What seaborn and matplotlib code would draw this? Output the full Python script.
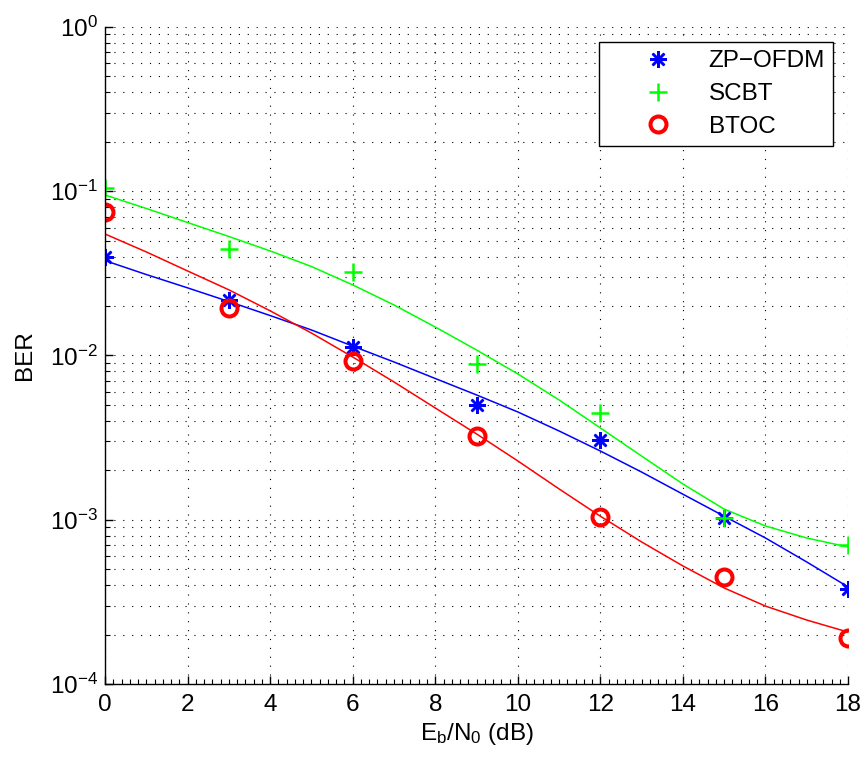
import numpy as np
import matplotlib
matplotlib.use("Agg")
import matplotlib.pyplot as plt
import seaborn as sns
from matplotlib.ticker import MultipleLocator, LogLocator, NullFormatter

# === 資料 ===
snr_pts = [0, 3, 6, 9, 12, 15, 18]
zp_ofdm_pts = [0.0397, 0.0218, 0.0112, 0.0050, 0.00306, 0.00103, 0.000377]
scbt_pts = [0.104, 0.0445, 0.0321, 0.00888, 0.00445, 0.00103, 0.000702]
btoc_pts = [0.0744, 0.0194, 0.00926, 0.00324, 0.00104, 0.000446, 0.000190]

# 擬合曲線
snr_fit = list(range(19))
zp_ofdm_fit = [0.0378, 0.0311, 0.0258, 0.0213, 0.0175, 0.0143, 0.0114, 0.00913,
               0.00724, 0.00575, 0.00453, 0.00347, 0.00262, 0.00195, 0.00143,
               0.00105, 0.000774, 0.000553, 0.000390]
scbt_fit = [0.0949, 0.0785, 0.0645, 0.0530, 0.0433, 0.0348, 0.0269, 0.0203,
            0.0149, 0.0108, 0.00772, 0.00536, 0.00362, 0.00244, 0.00165,
            0.00116, 0.000916, 0.000774, 0.000682]
btoc_fit = [0.0549, 0.0427, 0.0327, 0.0251, 0.0187, 0.0137, 0.00979, 0.00690,
            0.00479, 0.00333, 0.00228, 0.00154, 0.00105, 0.000732, 0.000523,
            0.000384, 0.000298, 0.000245, 0.000207]

# === 樣式 ===
sns.set_style('ticks')
plt.rcParams['font.family'] = ['Liberation Sans', 'DejaVu Sans']
plt.rcParams['mathtext.fontset'] = 'custom'
plt.rcParams['mathtext.rm'] = 'Liberation Sans'
plt.rcParams['mathtext.it'] = 'Liberation Sans'
for key in ['text.color', 'axes.labelcolor', 'xtick.color', 'ytick.color',
            'axes.edgecolor']:
    plt.rcParams[key] = 'black'
fs = 17.5

fig = plt.figure(figsize=(8.68, 7.62), dpi=100)
ax = fig.add_axes([0.121, 0.1024, 0.856, 0.8622])

# 曲線
sns.lineplot(x=snr_fit, y=zp_ofdm_fit, color='#0000ff', lw=1.1, ax=ax)
sns.lineplot(x=snr_fit, y=scbt_fit, color='#00ff00', lw=1.1, ax=ax)
sns.lineplot(x=snr_fit, y=btoc_fit, color='#ff0000', lw=1.1, ax=ax)

# 標記點
sns.lineplot(x=snr_pts, y=zp_ofdm_pts, marker=(8, 2, 0), linestyle='',
             markersize=12, mew=1.8, mec='#0000ff', color='#0000ff',
             label='ZP\u2212OFDM', ax=ax)
sns.lineplot(x=snr_pts, y=scbt_pts, marker='+', linestyle='',
             markersize=12.5, mew=1.8, mec='#00ff00', color='#00ff00',
             label='SCBT', ax=ax)
sns.lineplot(x=snr_pts, y=btoc_pts, marker='o', linestyle='',
             markersize=11.5, mew=2.9, mfc='none', mec='#ff0000',
             color='#ff0000', label='BTOC', ax=ax)

ax.set_yscale('log')
ax.set_xlim(0, 18)
ax.set_ylim(1e-4, 1e0)
ax.xaxis.set_major_locator(MultipleLocator(2))
ax.xaxis.set_minor_locator(MultipleLocator(0.2))
ax.yaxis.set_major_locator(LogLocator(base=10, numticks=10))
ax.yaxis.set_minor_locator(LogLocator(base=10, subs=np.arange(2, 10), numticks=20))
ax.yaxis.set_minor_formatter(NullFormatter())

ax.grid(True, which='major', axis='both', color='black',
        linestyle=(0, (1, 7)), linewidth=0.8)
ax.grid(True, which='minor', axis='y', color='black',
        linestyle=(0, (1, 7)), linewidth=0.8)

sns.despine(ax=ax)
for side in ['left', 'bottom']:
    ax.spines[side].set_linewidth(1.0)
    ax.spines[side].set_color('black')

ax.tick_params(which='major', direction='in', length=6, width=1.0,
               labelsize=fs, color='black', labelcolor='black')
ax.tick_params(which='minor', direction='in', length=3.5, width=0.8,
               color='black')
ax.tick_params(axis='x', pad=7)
ax.tick_params(axis='y', pad=5)

ax.set_xlabel(r'E$_\mathregular{b}$/N$_\mathregular{0}$ (dB)', fontsize=fs,
              labelpad=4)
ax.set_ylabel('BER', fontsize=fs, labelpad=10)

leg = ax.legend(loc='upper right', fontsize=fs, frameon=True, fancybox=False,
                framealpha=1, edgecolor='black', borderpad=0.35,
                labelspacing=0.45, handlelength=4.1, handletextpad=0.05,
                borderaxespad=0.6, numpoints=1)
leg.get_frame().set_linewidth(1.0)

fig.savefig('out.png', dpi=100)
plt.close(fig)
